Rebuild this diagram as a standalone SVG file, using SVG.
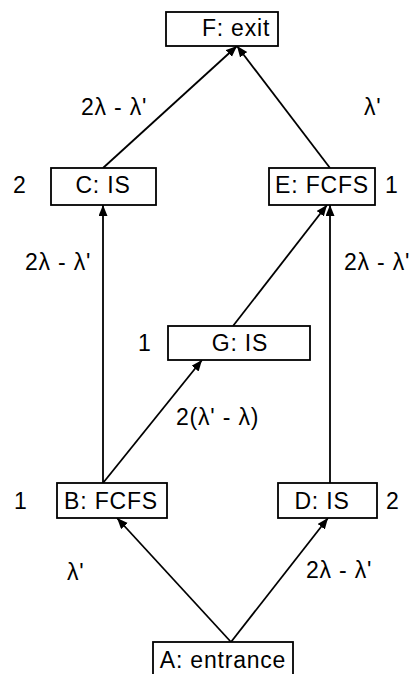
<svg xmlns="http://www.w3.org/2000/svg" width="413" height="674" viewBox="0 0 413 674">
<defs>
<marker id="ah" markerUnits="userSpaceOnUse" markerWidth="12" markerHeight="10" refX="11" refY="4.5" orient="auto">
<path d="M0,0 L11,4.5 L0,9 z" fill="#000"/>
</marker>
<style>
text{font-family:"Liberation Sans",Arial,sans-serif;font-size:23px;letter-spacing:0.8px;fill:#000}
.box{fill:#fff;stroke:#000;stroke-width:1.8}
.edge{stroke:#000;stroke-width:1.8;fill:none;marker-end:url(#ah)}
.m{text-anchor:middle}
</style>
</defs>
<rect width="413" height="674" fill="#fff"/>
<g id="edges">
<line class="edge" x1="231" y1="642" x2="117" y2="518"/>
<line class="edge" x1="231" y1="642" x2="328" y2="518"/>
<line class="edge" x1="103" y1="483" x2="103" y2="205"/>
<line class="edge" x1="103" y1="483" x2="202" y2="360"/>
<line class="edge" x1="233" y1="326" x2="327" y2="205"/>
<line class="edge" x1="330" y1="483" x2="330" y2="205"/>
<line class="edge" x1="103" y1="168" x2="237" y2="46"/>
<line class="edge" x1="330" y1="168" x2="237" y2="46"/>
</g>
<g id="edge-labels">
<text x="81" y="115">2λ - λ'</text>
<text x="364" y="115">λ'</text>
<text x="25" y="270">2λ - λ'</text>
<text x="344" y="270">2λ - λ'</text>
<text x="176" y="425">2(λ' - λ)</text>
<text x="67" y="580">λ'</text>
<text x="306" y="578">2λ - λ'</text>
</g>
<g id="F"><rect class="box" x="166" y="12" width="112" height="34"/><text class="m" x="236" y="36">F: exit</text></g>
<g id="C"><rect class="box" x="51" y="168" width="105" height="37"/><text class="m" x="103" y="193">C: IS</text><text x="13" y="193">2</text></g>
<g id="E"><rect class="box" x="269" y="168" width="106" height="37"/><text class="m" x="322" y="193">E: FCFS</text><text x="385" y="193">1</text></g>
<g id="G"><rect class="box" x="168" y="326" width="142" height="34"/><text class="m" x="240" y="351">G: IS</text><text x="138" y="351">1</text></g>
<g id="B"><rect class="box" x="57" y="483" width="110" height="35"/><text class="m" x="111" y="509">B: FCFS</text><text x="14" y="509">1</text></g>
<g id="D"><rect class="box" x="278" y="483" width="99" height="35"/><text class="m" x="322" y="509">D: IS</text><text x="386" y="509">2</text></g>
<g id="A"><rect class="box" x="153" y="642" width="140" height="40"/><text class="m" x="223" y="668">A: entrance</text></g>
</svg>
